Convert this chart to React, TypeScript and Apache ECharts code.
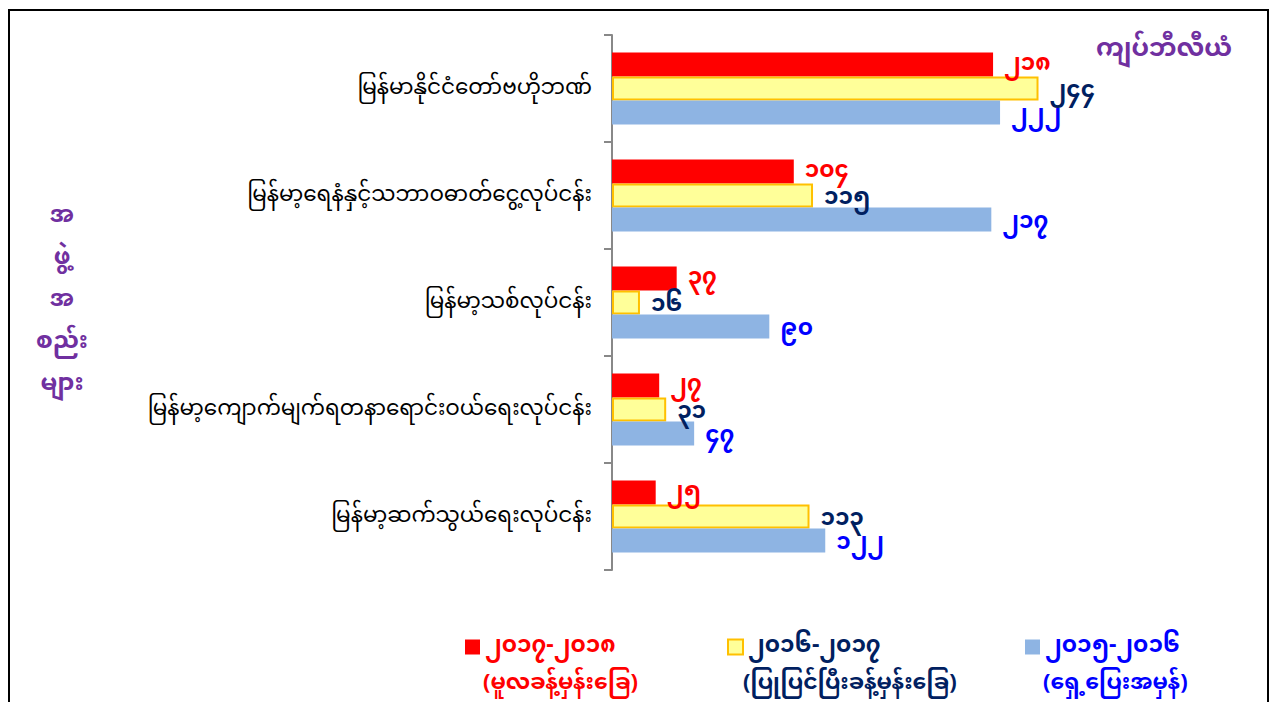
import React, { useEffect, useRef } from "react";
import * as echarts from "echarts";

const categories = [
  "မြန်မာနိုင်ငံတော်ဗဟိုဘဏ်",
  "မြန်မာ့ရေနံနှင့်သဘာဝဓာတ်ငွေ့လုပ်ငန်း",
  "မြန်မာ့သစ်လုပ်ငန်း",
  "မြန်မာ့ကျောက်မျက်ရတနာရောင်းဝယ်ရေးလုပ်ငန်း",
  "မြန်မာ့ဆက်သွယ်ရေးလုပ်ငန်း",
];
const seriesYears = ["၂၀၁၇-၂၀၁၈", "၂၀၁၆-၂၀၁၇", "၂၀၁၅-၂၀၁၆"];
const seriesNotes = ["(မူလခန့်မှန်းခြေ)", "(ပြုပြင်ပြီးခန့်မှန်းခြေ)", "(ရှေ့ပြေးအမှန်)"];
const values2017 = [218, 104, 37, 27, 25];
const values2016 = [244, 115, 16, 31, 113];
const values2015 = [222, 217, 90, 47, 122];
const unitLabel = "ကျပ်ဘီလီယံ";
const axisTitle = "အ\nဖွဲ့\nအ\nစည်း\nများ";

const MY_FONT = "'Noto Sans Myanmar', 'Padauk', 'Myanmar Text', 'Noto Sans', sans-serif";
const myDigits = "၀၁၂၃၄၅၆၇၈၉";
const toMy = (n: number) => String(n).replace(/[0-9]/g, (d) => myDigits[Number(d)]);

export default function App() {
  const ref = useRef<HTMLDivElement>(null);
  useEffect(() => {
    if (!ref.current) return;
    const chart = echarts.init(ref.current, undefined, { renderer: "svg" });
    const fills = ["#FF0000", "#FFFF99", "#8EB4E3"];
    const labelColors = ["#FF0000", "#002060", "#0000FF"];
    const data = [values2017, values2016, values2015];
    const legendLefts = [460, 722, 1020];
    const noteLefts = [483, 743, 1043];
    chart.setOption({
      animation: false,
      backgroundColor: "#fff",
      textStyle: { fontFamily: MY_FONT },
      graphic: [
        {
          type: "rect",
          shape: { x: 9, y: 10, width: 1259, height: 720 },
          style: { fill: "none", stroke: "#000", lineWidth: 2 },
          z: -1,
        },
        {
          type: "text",
          x: 62,
          y: 300,
          style: {
            text: axisTitle,
            fill: "#7030A0",
            font: `bold 24px ${MY_FONT}`,
            lineHeight: 42,
            align: "center",
            verticalAlign: "middle",
          },
        },
        {
          type: "text",
          x: 1164,
          y: 50,
          style: {
            text: unitLabel,
            fill: "#7030A0",
            font: `bold 25px ${MY_FONT}`,
            align: "center",
            verticalAlign: "middle",
          },
        },
        ...seriesNotes.map((note, i) => ({
          type: "text",
          x: noteLefts[i],
          y: 684,
          style: {
            text: note,
            fill: labelColors[i],
            font: `bold 22px ${MY_FONT}`,
            lineHeight: 24,
            align: "left",
            verticalAlign: "middle",
          },
        })),
      ],
      legend: seriesYears.map((name, i) => ({
        data: [name],
        left: legendLefts[i],
        top: 627,
        icon: "rect",
        itemWidth: 15,
        itemHeight: 15,
        itemGap: 0,
        textStyle: {
          color: labelColors[i],
          fontSize: 23,
          fontWeight: "bold",
          fontFamily: MY_FONT,
          lineHeight: 30,
        },
      })),
      grid: { left: 612, top: 35, width: 524.4, height: 535, containLabel: false },
      xAxis: {
        type: "value",
        min: 0,
        max: 300,
        show: false,
      },
      yAxis: {
        type: "category",
        data: categories,
        inverse: true,
        axisLine: { lineStyle: { color: "#888", width: 2 } },
        axisTick: { show: true, length: 8, lineStyle: { color: "#888", width: 2 } },
        axisLabel: { color: "#000", fontSize: 21.5, margin: 20, fontFamily: MY_FONT },
      },
      series: seriesYears.map((name, i) => ({
        name,
        type: "bar",
        data: data[i],
        barWidth: 24,
        barGap: "0%",
        itemStyle: {
          color: fills[i],
          borderColor: i === 1 ? "#FFC000" : fills[i],
          borderWidth: i === 1 ? 2 : 0,
        },
        label: {
          show: true,
          position: "right",
          distance: 11,
          offset: [0, i === 0 ? 0 : 3],
          color: labelColors[i],
          fontSize: 23,
          fontWeight: "bold",
          fontFamily: MY_FONT,
          formatter: (p: any) => toMy(p.value),
        },
      })),
    });
    return () => chart.dispose();
  }, []);
  return (
    <div
      ref={ref}
      style={{ position: "fixed", left: 0, top: 0, width: 1272, height: 702 }}
    />
  );
}
